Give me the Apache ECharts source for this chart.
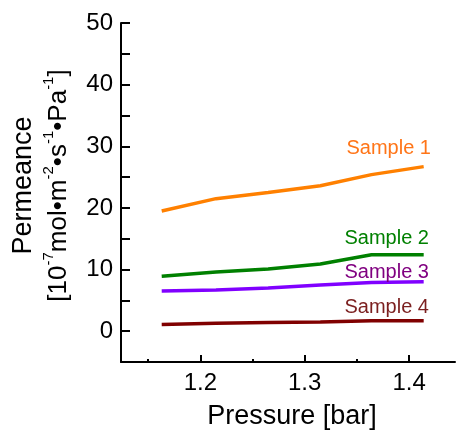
<!DOCTYPE html>
<html>
<head>
<meta charset="utf-8">
<script src="https://cdn.jsdelivr.net/npm/echarts@6/dist/echarts.min.js"></script>
<style>
  html, body { margin: 0; padding: 0; background: #fff; }
  #chart { width: 460px; height: 430px; }
</style>
</head>
<body>
<div id="chart"></div>
<script>
// pressure [bar]
const pressure = [1.163, 1.215, 1.265, 1.315, 1.364, 1.414];
// permeance [10^-7 mol m^-2 s^-1 Pa^-1]
const sample1 = [19.5, 21.5, 22.5, 23.6, 25.4, 26.7];
const sample2 = [8.9, 9.6, 10.1, 10.9, 12.4, 12.4];
const sample3 = [6.5, 6.7, 7.0, 7.5, 7.9, 8.0];
const sample4 = [1.1, 1.3, 1.4, 1.5, 1.7, 1.7];
const sampleNames = ['Sample 1', 'Sample 2', 'Sample 3', 'Sample 4'];
const xMajorTicks = [1.2, 1.3, 1.4];
const xMinorTicks = [1.15, 1.25, 1.35];

const font = '"Liberation Sans", Arial, sans-serif';
const lineColors = ['#ff8000', '#008000', '#8000ff', '#800000'];
const textColors = ['#ff7518', '#008000', '#800080', '#7b1f1f'];
const labelOffsets = [[-35, -18], [-37, -16], [-37, -9], [-37, -13]];

const myChart = echarts.init(document.getElementById('chart'));

function makeSeries(values, i) {
    const data = values.map((v, j) => {
        const item = { value: [pressure[j], v] };
        if (j === values.length - 1) {
            item.label = {
                show: true,
                position: 'inside',
                offset: labelOffsets[i],
                formatter: sampleNames[i],
                color: textColors[i],
                fontFamily: font,
                fontSize: 20
            };
        }
        return item;
    });
    return {
        type: 'line',
        name: sampleNames[i],
        xAxisIndex: 0,
        data: data,
        symbol: 'circle',
        symbolSize: 0,
        showSymbol: true,
        lineStyle: { color: lineColors[i], width: 3.5 },
        itemStyle: { color: lineColors[i] },
        silent: true
    };
}

const option = {
    animation: false,
    grid: { left: 121, right: 5, top: 23, bottom: 68, containLabel: false, outerBoundsMode: 'none' },
    xAxis: [
        {
            type: 'value',
            min: 1.124,
            max: 1.444,
            name: 'Pressure [bar]',
            nameLocation: 'middle',
            nameGap: 41,
            nameTextStyle: { fontFamily: font, fontSize: 27, color: '#000', padding: [0, 0, 0, 8] },
            axisLine: { show: true, onZero: false, lineStyle: { color: '#000', width: 2 } },
            axisTick: { show: true, inside: true, length: 7, customValues: xMajorTicks, lineStyle: { color: '#000', width: 2 } },
            axisLabel: { customValues: xMajorTicks, fontFamily: font, fontSize: 24, color: '#000', margin: 9 },
            splitLine: { show: false }
        },
        {
            type: 'value',
            position: 'bottom',
            min: 1.124,
            max: 1.444,
            axisLine: { show: false, onZero: false },
            axisTick: { show: true, inside: true, length: 3, customValues: xMinorTicks, lineStyle: { color: '#000', width: 2 } },
            axisLabel: { show: false },
            splitLine: { show: false }
        }
    ],
    yAxis: {
        type: 'value',
        min: -5,
        max: 50,
        interval: 5,
        name: '{a|Permeance}\n{t|[10}{s|-7}{t|mol•m}{s|-2}{t|•s}{s|-1}{t|•Pa}{s|-1}{t|]}',
        nameLocation: 'middle',
        nameRotate: 90,
        nameGap: 45,
        nameTextStyle: {
            color: '#000',
            fontFamily: font,
            padding: [0, 0, 0, 14],
            rich: {
                a: { fontFamily: font, fontSize: 27, color: '#000', lineHeight: 35 },
                t: { fontFamily: font, fontSize: 26, color: '#000', lineHeight: 35 },
                s: { fontFamily: font, fontSize: 15, color: '#000', lineHeight: 35, verticalAlign: 'top' }
            }
        },
        axisLine: { show: true, onZero: false, lineStyle: { color: '#000', width: 2 } },
        axisTick: { show: true, inside: true, length: 9, lineStyle: { color: '#000', width: 2 } },
        axisLabel: {
            fontFamily: font,
            fontSize: 24,
            color: '#000',
            margin: 8,
            formatter: v => (v % 10 === 0 ? String(v) : '')
        },
        splitLine: { show: false }
    },
    series: [sample1, sample2, sample3, sample4].map(makeSeries)
};

myChart.setOption(option);
</script>
</body>
</html>
